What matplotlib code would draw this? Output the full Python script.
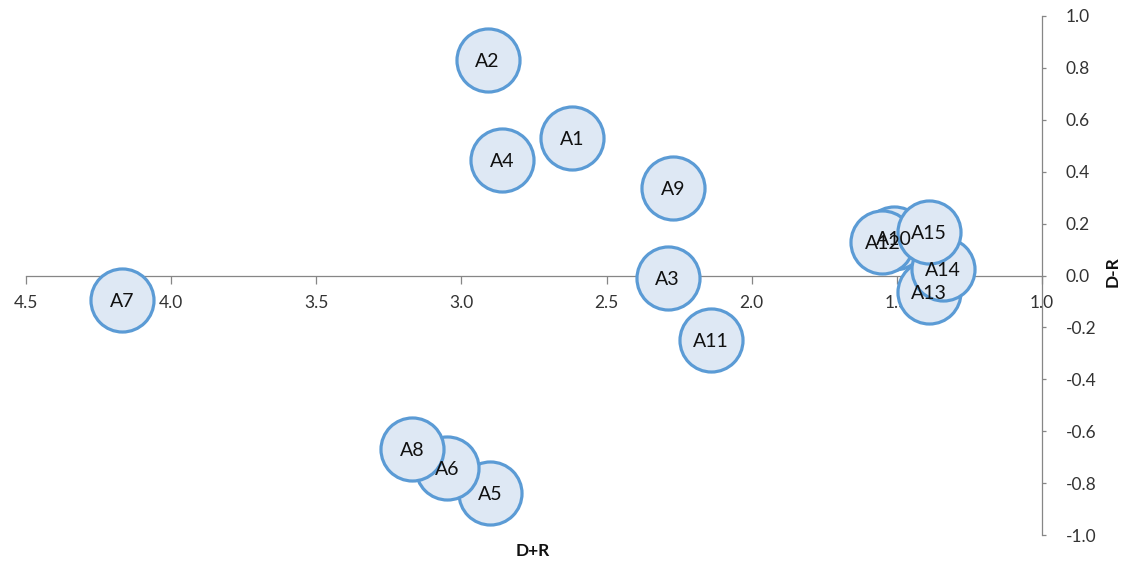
import matplotlib
matplotlib.use("Agg")
import matplotlib.pyplot as plt

labels = ["A1", "A2", "A3", "A4", "A5", "A6", "A7", "A8", "A9", "A10",
          "A11", "A12", "A13", "A14", "A15"]
d_plus_r = [2.62, 2.91, 2.29, 2.86, 2.90, 3.05, 4.17, 3.17, 2.27, 1.51,
            2.14, 1.55, 1.39, 1.34, 1.39]
d_minus_r = [0.53, 0.83, -0.01, 0.445, -0.84, -0.74, -0.095, -0.67, 0.337, 0.145,
             -0.25, 0.129, -0.064, 0.025, 0.168]
x_ticks = [4.5, 4.0, 3.5, 3.0, 2.5, 2.0, 1.5, 1.0]
y_ticks = [-1.0, -0.8, -0.6, -0.4, -0.2, 0.0, 0.2, 0.4, 0.6, 0.8, 1.0]

plt.rcParams['font.family'] = ['Lato', 'DejaVu Sans']
plt.rcParams['axes.unicode_minus'] = False

W, H = 1126, 567
fig = plt.figure(figsize=(W / 100, H / 100), dpi=100)
ax = fig.add_axes([26 / W, (H - 535) / H, (1042 - 26) / W, (535 - 16) / H])

grey = "#868686"
fill = "#DEE8F4"
edge = "#5B9BD5"

for x, y in zip(d_plus_r, d_minus_r):
    ax.scatter([x], [y], s=2060, facecolor=fill, edgecolor=edge,
               linewidths=2.3, zorder=3, clip_on=False)
for x, y, t in zip(d_plus_r, d_minus_r, labels):
    ax.text(x, y, t, ha="center", va="center_baseline", fontsize=14,
            color="#111111", zorder=5)

ax.set_xlim(4.5, 1.0)
ax.set_ylim(-1.0, 1.0)
ax.set_xticks(x_ticks)
ax.set_xticklabels([f"{v:.1f}" for v in x_ticks])
ax.set_yticks(y_ticks)
ax.set_yticklabels([f"{v:.1f}" for v in y_ticks])

ax.spines['left'].set_visible(False)
ax.spines['top'].set_visible(False)
ax.spines['bottom'].set_position(('data', 0))
for sp in ('bottom', 'right'):
    ax.spines[sp].set_color(grey)
    ax.spines[sp].set_linewidth(0.9)

ax.yaxis.tick_right()
ax.tick_params(axis='x', direction='out', length=6, width=0.9, color=grey,
               labelsize=12.5, pad=8, labelcolor="#333333")
ax.tick_params(axis='y', direction='out', length=3, width=0.9, color=grey,
               labelsize=12.5, pad=14, labelcolor="#333333")
ax.patch.set_alpha(0)

fig.text(533 / W, 1 - 551 / H, "D+R", ha="center", va="center",
         fontsize=12.5, fontweight="bold", color="#111111")
fig.text(1113 / W, 1 - 272 / H, "D-R", ha="center", va="center", rotation=90,
         fontsize=12.5, fontweight="bold", color="#111111")

fig.savefig("out.png", dpi=100)
